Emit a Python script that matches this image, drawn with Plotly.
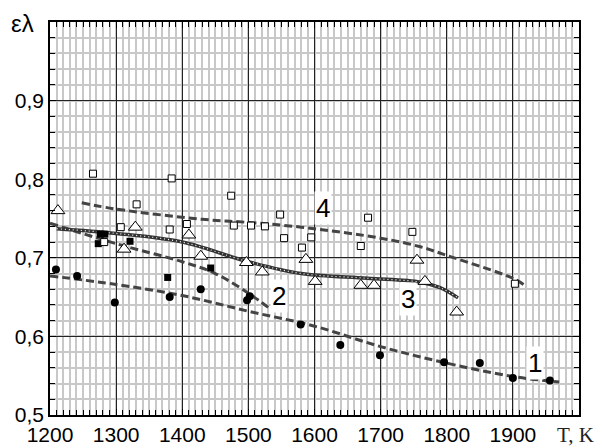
import plotly.graph_objects as go

# ---- data ----
s1_x = [1209, 1241, 1298, 1381, 1428, 1498, 1502, 1579, 1639, 1699, 1796, 1850, 1900, 1956]
s1_y = [0.685, 0.677, 0.643, 0.650, 0.660, 0.646, 0.651, 0.615, 0.589, 0.576, 0.567, 0.566, 0.547, 0.544]

s2_x = [1273, 1276, 1283, 1321, 1378, 1443]
s2_y = [0.718, 0.730, 0.730, 0.721, 0.675, 0.687]

s3_x = [1212, 1312, 1329, 1410, 1428, 1497, 1521, 1587, 1601, 1670, 1690, 1755, 1767, 1815]
s3_y = [0.760, 0.711, 0.739, 0.729, 0.702, 0.694, 0.682, 0.698, 0.670, 0.665, 0.665, 0.697, 0.670, 0.631]

s4_x = [1265, 1384, 1331, 1307, 1282, 1381, 1407, 1474, 1478, 1504, 1525, 1548, 1554, 1581, 1595,
        1681, 1670, 1748, 1903]
s4_y = [0.807, 0.801, 0.768, 0.739, 0.720, 0.736, 0.743, 0.779, 0.741, 0.741, 0.740, 0.755, 0.725,
        0.713, 0.726, 0.751, 0.715, 0.733, 0.667]

c1_x = [1200, 1300, 1400, 1500, 1600, 1700, 1800, 1900, 1970]
c1_y = [0.677, 0.666, 0.652, 0.632, 0.613, 0.587, 0.566, 0.549, 0.542]

c2_x = [1200, 1300, 1400, 1450, 1500, 1533]
c2_y = [0.744, 0.718, 0.695, 0.680, 0.655, 0.635]

c3_x = [1210, 1300, 1400, 1500, 1580, 1680, 1760, 1790, 1817]
c3_y = [0.737, 0.731, 0.720, 0.695, 0.680, 0.674, 0.669, 0.662, 0.649]

c4_x = [1248, 1300, 1430, 1500, 1580, 1700, 1760, 1800, 1900, 1918]
c4_y = [0.770, 0.762, 0.749, 0.745, 0.739, 0.725, 0.714, 0.703, 0.674, 0.665]

x_ticks = [1200, 1300, 1400, 1500, 1600, 1700, 1800, 1900]
y_ticks = [0.5, 0.6, 0.7, 0.8, 0.9]
y_tick_text = ["0,5", "0,6", "0,7", "0,8", "0,9"]

curve_labels = ["1", "2", "3", "4"]
label_x = [1933, 1546, 1742, 1613]
label_y = [0.566, 0.651, 0.648, 0.764]

DASH = "8px,4px"
CCOL = "#444444"
SANS = "Liberation Sans, Arial"

fig = go.Figure()

# dashed curves
for cx, cy in [(c1_x, c1_y), (c2_x, c2_y), (c4_x, c4_y)]:
    fig.add_trace(go.Scatter(x=cx, y=cy, mode="lines", line=dict(color=CCOL, width=3, dash=DASH, shape="spline"),
                             hoverinfo="skip"))
# curve 3: thick line with small white dots
fig.add_trace(go.Scatter(x=c3_x, y=c3_y, mode="lines", line=dict(color="#333333", width=3.5, shape="spline")))
fig.add_trace(go.Scatter(x=c3_x, y=c3_y, mode="lines", line=dict(color="white", width=1.2, dash="1px,3px", shape="spline")))

# markers
fig.add_trace(go.Scatter(x=s1_x, y=s1_y, mode="markers",
                         marker=dict(symbol="circle", size=8, color="black")))
fig.add_trace(go.Scatter(x=s2_x, y=s2_y, mode="markers",
                         marker=dict(symbol="square", size=7, color="black")))
fig.add_trace(go.Scatter(x=s3_x, y=s3_y, mode="markers",
                         marker=dict(symbol="triangle-up", size=12, color="white", line=dict(color="black", width=1))))
fig.add_trace(go.Scatter(x=s4_x, y=s4_y, mode="markers",
                         marker=dict(symbol="square", size=7, color="white", line=dict(color="black", width=1))))

for t, lx, ly in zip(curve_labels, label_x, label_y):
    fig.add_annotation(x=lx, y=ly, text=t, showarrow=False, bgcolor="white", borderpad=1,
                       font=dict(family=SANS, size=26, color="black"))

fig.add_annotation(xref="paper", yref="paper", x=-0.052, y=1 + 14 / 393, text="ελ", showarrow=False,
                   xanchor="center", yanchor="top", yshift=0,
                   font=dict(family=SANS, size=24, color="black"))
fig.add_annotation(xref="paper", yref="paper", x=0.955, y=0, text="T, K", showarrow=False,
                   xanchor="left", yanchor="top", yshift=-6,
                   font=dict(family="Liberation Serif, Times New Roman", size=21, color="#222"))

fig.update_xaxes(range=[1200, 2000], tickvals=x_ticks, ticks="inside", ticklen=6, tickcolor="black",
                 showgrid=True, gridcolor="#222222", gridwidth=1, automargin=False,
                 showline=True, linecolor="black", linewidth=1.5, mirror="ticks",
                 minor=dict(dtick=10, ticks="inside", ticklen=5, tickcolor="black", showgrid=True,
                            gridcolor="#c8c8c8", gridwidth=1.5),
                 zeroline=False,
                 tickfont=dict(family=SANS, size=21, color="black"))
fig.update_yaxes(range=[0.5, 1.0], tickvals=y_ticks, ticktext=y_tick_text, ticks="inside", ticklen=6,
                 tickcolor="black", showgrid=True, gridcolor="#222222", gridwidth=1, automargin=False,
                 showline=True, linecolor="black", linewidth=1.5, mirror="ticks",
                 minor=dict(dtick=0.02, ticks="inside", ticklen=5, tickcolor="black", showgrid=True,
                            gridcolor="#c8c8c8", gridwidth=1.5),
                 zeroline=False,
                 tickfont=dict(family=SANS, size=21, color="black"))

# page body has an 8px margin, so the figure is sized to the visible 594x440 region
fig.update_layout(width=594, height=440, margin=dict(l=42, r=23, t=14, b=33),
                  plot_bgcolor="white", paper_bgcolor="white", showlegend=False)

fig.write_html("out.html")
